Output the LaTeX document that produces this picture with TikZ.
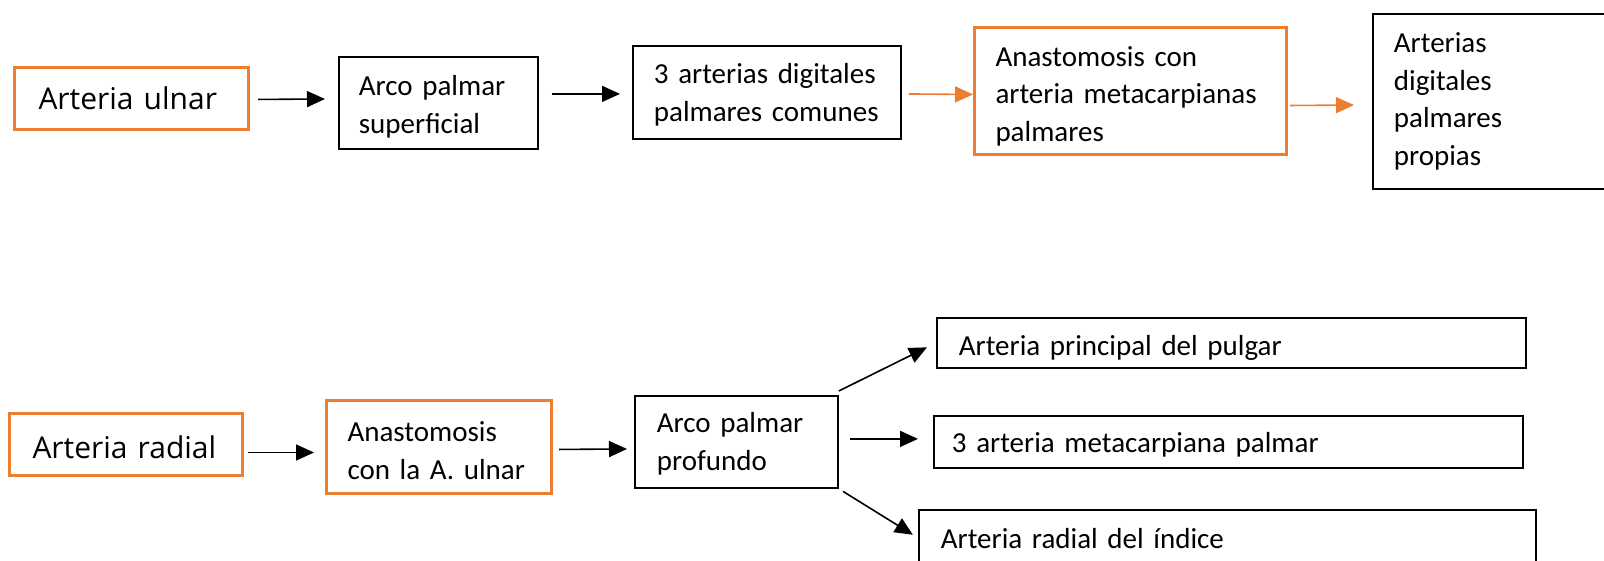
\documentclass[tikz,border=0pt]{standalone}
\usepackage{fontspec}
\setmainfont{Carlito}
\newfontfamily\manual{Open Sans}
\usetikzlibrary{arrows.meta}
\definecolor{naranja}{HTML}{ED7D31}
\tikzstyle{caja}=[draw=black,line width=1.8pt,anchor=north west,align=left,inner ysep=0pt,font=\fontsize{29}{37.5}\selectfont]
\tikzstyle{cajanaranja}=[caja,draw=naranja,line width=3pt]
\tikzstyle{flecha}=[line width=1.6pt,-{Triangle[length=18pt,width=16pt]}]
\tikzstyle{flechanaranja}=[flecha,draw=naranja]

\begin{document}
\begin{tikzpicture}[x=1pt,y=-1pt]
  \useasboundingbox (0,0) rectangle (1604,561);

  \node[cajanaranja,minimum width=234pt,minimum height=62pt,inner xsep=24pt,text width=186pt,
    text height=22pt,text depth=0pt,font=\manual\fontsize{30}{37.5}\selectfont] (ulnar) at (13,66) {Arteria ulnar};
  \node[caja,minimum width=199pt,minimum height=92pt,inner xsep=20pt,text width=159pt,
    text height=0pt,text depth=14pt] (arcosup) at (338,56) {Arco palmar\\superficial};
  \node[caja,minimum width=268pt,minimum height=93pt,inner xsep=21pt,text width=226pt,
    text height=0pt,text depth=17pt] (digcom) at (632,45) {3~arterias~digitales\\palmares~comunes};
  \node[cajanaranja,minimum width=312pt,minimum height=127pt,inner xsep=21pt,text width=270pt,
    text height=0pt,text depth=49pt] (anast1) at (973,26) {Anastomosis con\\arteria~metacarpianas\\palmares};
  \node[caja,minimum width=260pt,minimum height=175pt,inner xsep=21pt,text width=218pt,
    text height=0pt,text depth=97pt] (digprop) at (1372,13) {Arterias\\digitales\\palmares\\propias};

  \node[cajanaranja,minimum width=233pt,minimum height=62pt,inner xsep=23pt,text width=187pt,
    text height=28pt,text depth=0pt,font=\manual\fontsize{30}{37.5}\selectfont] (radial) at (8,412) {Arteria radial};
  \node[cajanaranja,minimum width=225pt,minimum height=93pt,inner xsep=21pt,text width=183pt,
    text height=0pt,text depth=11pt] (anast2) at (325,399) {Anastomosis\\con la A. ulnar};
  \node[caja,minimum width=203pt,minimum height=92pt,inner xsep=22pt,text width=159pt,
    text height=0pt,text depth=18pt] (arcoprof) at (634,395) {Arco palmar\\profundo};
  \node[caja,minimum width=589pt,minimum height=50pt,inner xsep=22pt,text width=545pt,
    text height=26pt,text depth=0pt] (pulgar) at (936,317) {Arteria principal del pulgar};
  \node[caja,minimum width=589pt,minimum height=52pt,inner xsep=18pt,text width=553pt,
    text height=22pt,text depth=0pt] (metac) at (933,415) {3 arteria metacarpiana palmar};
  \node[caja,minimum width=617pt,minimum height=70pt,inner xsep=22pt,text width=573pt,
    text height=8pt,text depth=0pt] (indice) at (918,509) {Arteria radial del índice};

  \draw[flecha,shorten <=8pt,shorten >=13pt] ([yshift=-1pt]ulnar.east) -- ([yshift=4pt]arcosup.west);
  \draw[flecha,shorten <=13pt,shorten >=12pt] ([yshift=9pt]arcosup.east) -- ([yshift=-1.5pt]digcom.west);
  \draw[flechanaranja,shorten <=7pt] ([yshift=-1.5pt]digcom.east) -- ([yshift=-3.5pt]anast1.west);
  \draw[flechanaranja,shorten <=2pt,shorten >=18pt] ([yshift=-14.5pt]anast1.east) -- ([yshift=-3.5pt]digprop.west);

  \draw[flecha,shorten <=4pt,shorten >=11pt] ([yshift=-8pt]radial.east) -- ([yshift=-5.5pt]anast2.west);
  \draw[flecha,shorten <=6pt,shorten >=7pt] ([yshift=-2.5pt]anast2.east) -- ([yshift=-7pt]arcoprof.west);
  \draw[flecha,shorten >=10pt] ([yshift=4pt]arcoprof.north east) -- (pulgar.west);
  \draw[flecha,shorten <=11pt,shorten >=15pt] ([yshift=3pt]arcoprof.east) -- ([yshift=3pt]metac.west);
  \draw[flecha,shorten <=5pt,shorten >=6pt] (arcoprof.south east) -- ([yshift=7pt]indice.west);
\end{tikzpicture}
\end{document}
